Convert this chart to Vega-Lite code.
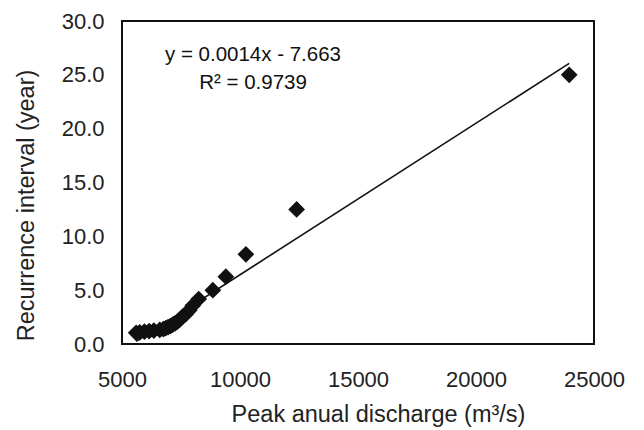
{
  "$schema": "https://vega.github.io/schema/vega-lite/v6.json",
  "autosize": {"type": "none"},
  "padding": {"left": 122, "top": 21, "right": 50, "bottom": 86},
  "width": 472,
  "height": 323,
  "background": "white",
  "config": {
    "font": "Liberation Sans",
    "view": {"stroke": "#111", "strokeWidth": 2},
    "axis": {"grid": false, "domain": false, "ticks": false, "labelFlush": false, "labelOverlap": false, "labelColor": "#222", "titleColor": "#222", "labelFont": "Liberation Sans", "titleFont": "Liberation Sans", "titleFontWeight": "normal"}
  },
  "data": {"values": [
    {"q": 23950, "t": 25.0},
    {"q": 12400, "t": 12.5},
    {"q": 10250, "t": 8.33},
    {"q": 9400, "t": 6.25},
    {"q": 8850, "t": 5.0},
    {"q": 8250, "t": 4.17},
    {"q": 8000, "t": 3.57},
    {"q": 7850, "t": 3.13},
    {"q": 7700, "t": 2.78},
    {"q": 7550, "t": 2.5},
    {"q": 7450, "t": 2.27},
    {"q": 7350, "t": 2.08},
    {"q": 7250, "t": 1.92},
    {"q": 7150, "t": 1.79},
    {"q": 7050, "t": 1.67},
    {"q": 6950, "t": 1.56},
    {"q": 6850, "t": 1.47},
    {"q": 6750, "t": 1.39},
    {"q": 6600, "t": 1.32},
    {"q": 6350, "t": 1.25},
    {"q": 6150, "t": 1.19},
    {"q": 5950, "t": 1.14},
    {"q": 5750, "t": 1.09},
    {"q": 5600, "t": 1.04}
  ]},
  "encoding": {
    "x": {"field": "q", "type": "quantitative", "scale": {"domain": [5000, 25000], "nice": false, "zero": false},
      "axis": {"values": [5000, 10000, 15000, 20000, 25000], "format": "d", "labelFontSize": 22, "labelPadding": 25, "title": "Peak anual discharge (m³/s)", "titleFontSize": 23.5, "titlePadding": 12, "titleX": 256}},
    "y": {"field": "t", "type": "quantitative", "scale": {"domain": [0, 30], "nice": false},
      "axis": {"values": [0, 5, 10, 15, 20, 25, 30], "format": ".1f", "labelFontSize": 22, "labelPadding": 18, "title": "Recurrence interval (year)", "titleFontSize": 23.5, "titlePadding": 23, "titleY": 184}}
  },
  "layer": [
    {
      "mark": {"type": "point", "shape": "diamond", "filled": true, "color": "#111", "size": 280, "opacity": 1}
    },
    {
      "transform": [{"regression": "t", "on": "q", "extent": [5600, 23950]}],
      "mark": {"type": "line", "color": "#111", "strokeWidth": 1.6}
    },
    {
      "data": {"values": [
        {"q": 10550, "t": 26.8, "label": "y = 0.0014x - 7.663"},
        {"q": 10550, "t": 24.2, "label": "R² = 0.9739"}
      ]},
      "mark": {"type": "text", "fontSize": 20.5, "color": "#111", "align": "center", "baseline": "middle", "font": "Liberation Sans"},
      "encoding": {"text": {"field": "label"}}
    }
  ]
}
